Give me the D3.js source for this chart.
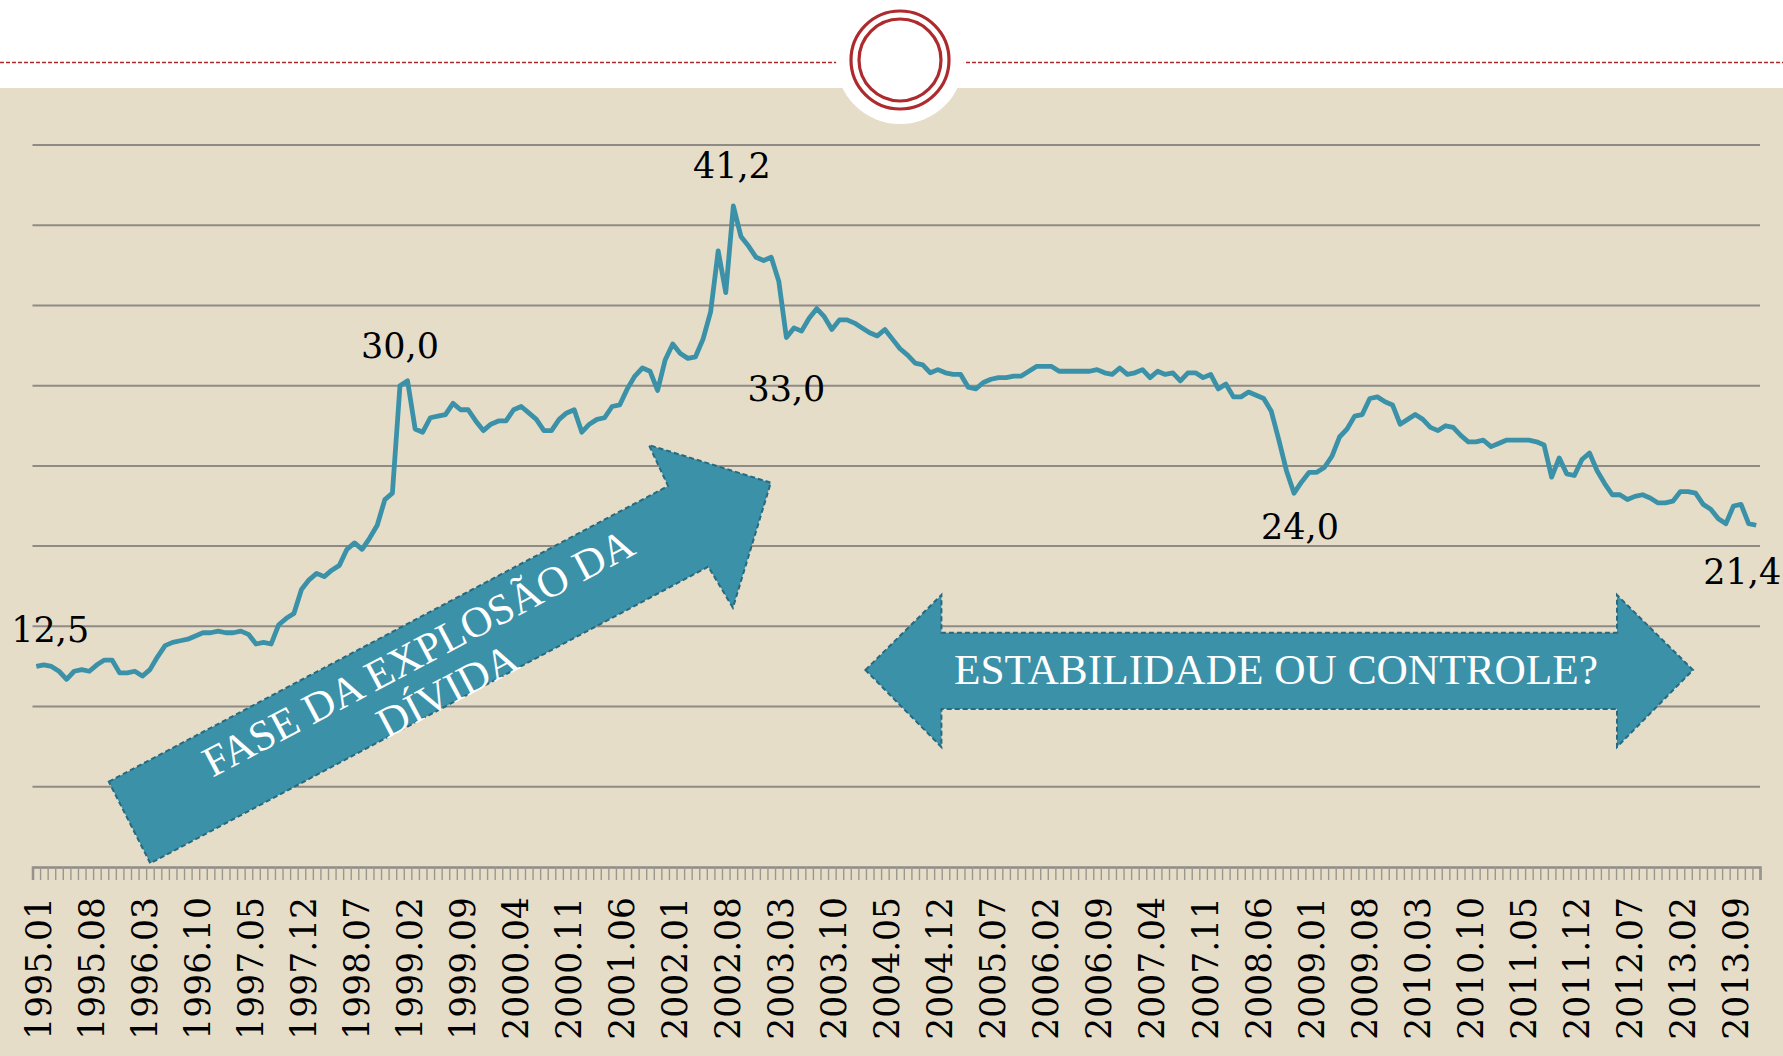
<!DOCTYPE html>
<html>
<head>
<meta charset="utf-8">
<script src="https://d3js.org/d3.v7.min.js"></script>
<style>
  body { margin: 0; background: #fff; }
  svg { display: block; }
</style>
</head>
<body>
<svg id="chart" width="1783" height="1056"></svg>
<script>
// monthly series, 1995.01 .. 2013.12
var startYear = 1995;
var values = [
  12.5, 12.6, 12.5, 12.2, 11.7, 12.2, 12.3, 12.2, 12.6, 12.9, 12.9, 12.1,
  12.1, 12.2, 11.9, 12.3, 13.1, 13.8, 14.0, 14.1, 14.2, 14.4, 14.6, 14.6,
  14.7, 14.6, 14.6, 14.7, 14.5, 13.9, 14.0, 13.9, 15.1, 15.5, 15.8, 17.3,
  17.9, 18.3, 18.1, 18.5, 18.8, 19.8, 20.2, 19.8, 20.5, 21.3, 22.9, 23.3,
  30.0, 30.3, 27.3, 27.1, 28.0, 28.1, 28.2, 28.9, 28.5, 28.5, 27.8, 27.2,
  27.6, 27.8, 27.8, 28.5, 28.7, 28.3, 27.9, 27.2, 27.2, 27.9, 28.3, 28.5,
  27.1, 27.6, 27.9, 28.0, 28.7, 28.8, 29.8, 30.6, 31.1, 30.9, 29.7, 31.6,
  32.6, 32.0, 31.7, 31.8, 32.9, 34.6, 38.4, 35.8, 41.2, 39.3, 38.7, 38.0,
  37.8, 38.0, 36.5, 33.0, 33.6, 33.4, 34.2, 34.8, 34.3, 33.5, 34.1, 34.1,
  33.9, 33.6, 33.3, 33.1, 33.5, 32.9, 32.3, 31.9, 31.4, 31.3, 30.8, 31.0,
  30.8, 30.7, 30.7, 29.9, 29.8, 30.2, 30.4, 30.5, 30.5, 30.6, 30.6, 30.9,
  31.2, 31.2, 31.2, 30.9, 30.9, 30.9, 30.9, 30.9, 31.0, 30.8, 30.7, 31.1,
  30.7, 30.8, 31.0, 30.5, 30.9, 30.7, 30.8, 30.3, 30.8, 30.8, 30.5, 30.7,
  29.8, 30.1, 29.3, 29.3, 29.6, 29.4, 29.2, 28.4, 26.6, 24.7, 23.3, 24.0,
  24.6, 24.6, 24.9, 25.6, 26.8, 27.3, 28.1, 28.2, 29.2, 29.3, 29.0, 28.8,
  27.6, 27.9, 28.2, 27.9, 27.4, 27.2, 27.5, 27.4, 26.9, 26.5, 26.5, 26.6,
  26.2, 26.4, 26.6, 26.6, 26.6, 26.6, 26.5, 26.3, 24.3, 25.5, 24.5, 24.4,
  25.4, 25.8, 24.7, 23.9, 23.2, 23.2, 22.9, 23.1, 23.2, 23.0, 22.7, 22.7,
  22.8, 23.4, 23.4, 23.3, 22.6, 22.3, 21.7, 21.4, 22.5, 22.6, 21.4, 21.3
];
var tickLabels = [
  "1995.01", "1995.08", "1996.03", "1996.10", "1997.05", "1997.12", "1998.07",
  "1999.02", "1999.09", "2000.04", "2000.11", "2001.06", "2002.01", "2002.08",
  "2003.03", "2003.10", "2004.05", "2004.12", "2005.07", "2006.02", "2006.09",
  "2007.04", "2007.11", "2008.06", "2009.01", "2009.08", "2010.03", "2010.10",
  "2011.05", "2011.12", "2012.07", "2013.02", "2013.09"
];
var gridValues = [5, 10, 15, 20, 25, 30, 35, 40, 45];
// highlighted months and their printed text
var calloutMonths = ["1995.01", "1999.01", "2002.09", "2003.04", "2008.11", "2013.12"];
var calloutTexts = ["12,5", "30,0", "41,2", "33,0", "24,0", "21,4"];
var arrowUp = "FASE DA EXPLOSÃO DA";
var arrowUp2 = "DÍVIDA";
var arrowMid = "ESTABILIDADE OU CONTROLE?";

var months = values.map(function(v, i) {
  var yr = startYear + Math.floor(i / 12), m = i % 12 + 1;
  return yr + "." + (m < 10 ? "0" + m : m);
});

var svg = d3.select("#chart");
var W = 1783, H = 1056;
var plotLeft = 32.5, plotRight = 1760, plotTop = 145, plotBottom = 867;
var teal = "#3a91a8", tealDark = "#276a80";

var x = d3.scaleBand().domain(months).range([plotLeft, plotRight]).paddingInner(0).paddingOuter(0);
var xEdge = d3.scaleLinear().domain([0, months.length]).range([plotLeft, plotRight]);
var y = d3.scaleLinear().domain([0, 45]).range([plotBottom, plotTop]);
function cx(m) { return x(m) + x.bandwidth() / 2; }

// background + header
svg.append("rect").attr("width", W).attr("height", H).attr("fill", "#e5ddc8");
svg.append("rect").attr("width", W).attr("height", 88).attr("fill", "#fff");
svg.append("line").attr("x1", 0).attr("x2", W).attr("y1", 62.5).attr("y2", 62.5)
  .attr("stroke", "#a8282c").attr("stroke-width", 1.6).attr("stroke-dasharray", "4,2");
svg.append("circle").attr("cx", 900).attr("cy", 60).attr("r", 64).attr("fill", "#fff");
[49, 41].forEach(function(r) {
  svg.append("circle").attr("cx", 900).attr("cy", 60).attr("r", r)
    .attr("fill", "none").attr("stroke", "#ad2a2d").attr("stroke-width", 3.2);
});

// gridlines
svg.append("g").selectAll("line").data(gridValues).enter().append("line")
  .attr("x1", plotLeft).attr("x2", plotRight)
  .attr("y1", function(d) { return y(d); }).attr("y2", function(d) { return y(d); })
  .attr("stroke", "#8e8b86").attr("stroke-width", 2);

// x axis with monthly ticks
var axis = svg.append("g").attr("transform", "translate(0," + plotBottom + ")")
  .call(d3.axisBottom(xEdge).tickValues(d3.range(months.length + 1))
    .tickSize(13).tickSizeOuter(13).tickFormat(""));
axis.select(".domain").attr("stroke", "#8e8b86").attr("stroke-width", 2.5);
axis.selectAll(".tick line").attr("stroke", "#9a978f").attr("stroke-width", 1.4);

svg.append("g").selectAll("text").data(tickLabels).enter().append("text")
  .attr("transform", function(d) { return "translate(" + (cx(d) + 2) + ",897) rotate(-90)"; })
  .attr("dy", "0.36em")
  .attr("text-anchor", "end")
  .attr("font-family", "Georgia, 'DejaVu Serif', serif")
  .attr("font-size", 34.5)
  .attr("fill", "#000")
  .text(function(d) { return d; });

// annotation arrows
var diag = [[108.8, 781.7], [668.1, 486], [648.9, 445], [770.8, 482.7],
            [732.9, 607.7], [708.3, 566.7], [150.3, 863.3]];
svg.append("polygon").attr("points", diag.join(" "))
  .attr("fill", teal).attr("stroke", tealDark).attr("stroke-width", 2)
  .attr("stroke-dasharray", "5,3");

var ang = Math.atan2(486 - 781.7, 668.1 - 108.8) * 180 / Math.PI;
svg.append("text").attr("transform", "translate(418,652) rotate(" + ang + ")")
  .attr("text-anchor", "middle").attr("dy", "0.35em")
  .attr("font-family", "'Liberation Serif', 'Times New Roman', serif")
  .attr("font-size", 43).attr("fill", "#fff").text(arrowUp);
svg.append("text").attr("transform", "translate(447,690) rotate(" + ang + ")")
  .attr("text-anchor", "middle").attr("dy", "0.35em")
  .attr("font-family", "'Liberation Serif', 'Times New Roman', serif")
  .attr("font-size", 43).attr("fill", "#fff").text(arrowUp2);

var dbl = [[865.4, 670], [941.4, 595], [941.4, 632.7], [1617, 632.7], [1617, 595],
           [1693, 670], [1617, 747], [1617, 709], [941.4, 709], [941.4, 747]];
svg.append("polygon").attr("points", dbl.join(" "))
  .attr("fill", teal).attr("stroke", tealDark).attr("stroke-width", 2)
  .attr("stroke-dasharray", "5,3");
svg.append("text").attr("x", 954).attr("y", 684)
  .attr("textLength", 644).attr("lengthAdjust", "spacingAndGlyphs")
  .attr("font-family", "'Liberation Serif', 'Times New Roman', serif")
  .attr("font-size", 43).attr("fill", "#fff").text(arrowMid);

// the series
var line = d3.line()
  .x(function(d, i) { return cx(months[i]); })
  .y(function(d) { return y(d); });
svg.append("path").datum(values).attr("d", line)
  .attr("fill", "none").attr("stroke", teal).attr("stroke-width", 4.8)
  .attr("stroke-linejoin", "round");

// value callouts, nudged off the line by hand
var nudge = [[14, -24], [0, -28], [-1.5, -27.5], [0, 63], [6, 46], [-14, 59]];
svg.append("g").selectAll("text").data(calloutMonths).enter().append("text")
  .attr("x", function(d, i) { return cx(d) + nudge[i][0]; })
  .attr("y", function(d, i) { return y(values[months.indexOf(d)]) + nudge[i][1]; })
  .attr("text-anchor", "middle")
  .attr("font-family", "Georgia, 'DejaVu Serif', serif")
  .attr("font-size", 35)
  .attr("fill", "#000")
  .text(function(d, i) { return calloutTexts[i]; });
</script>
</body>
</html>
